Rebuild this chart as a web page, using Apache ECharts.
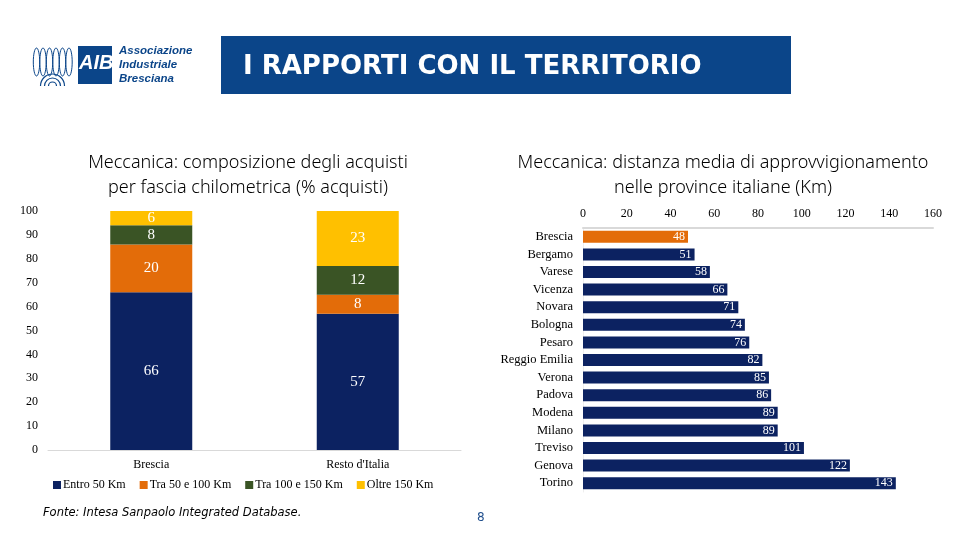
<!DOCTYPE html>
<html><head><meta charset="utf-8">
<script src="https://cdn.jsdelivr.net/npm/echarts@6/dist/echarts.min.js"></script>
<style>html,body{margin:0;padding:0;background:#fff}#c{width:960px;height:540px}</style>
</head><body><div id="c"></div>
<script>
const leftCategories = ['Brescia', "Resto d'Italia"];
const seriesNames = ['Entro 50 Km', 'Tra 50 e 100 Km', 'Tra 100 e 150 Km', 'Oltre 150 Km'];
const entro50 = [66, 57];
const tra50_100 = [20, 8];
const tra100_150 = [8, 12];
const oltre150 = [6, 23];
const leftTicks = [0,10,20,30,40,50,60,70,80,90,100];

const provinces = ['Brescia','Bergamo','Varese','Vicenza','Novara','Bologna','Pesaro','Reggio Emilia','Verona','Padova','Modena','Milano','Treviso','Genova','Torino'];
const distanceKm = [48,51,58,66,71,74,76,82,85,86,89,89,101,122,143];
const rightTicks = [0,20,40,60,80,100,120,140,160];

const NAVY = '#0c2261', ORANGE = '#e36c09', GREEN = '#3a5425', YELLOW = '#ffc000', BLUE = '#0b4589';
const colors = [NAVY, ORANGE, GREEN, YELLOW];
const serif = 'Liberation Serif';
const leftValues = [entro50, tra50_100, tra100_150, oltre150];

const chart = echarts.init(document.getElementById('c'));
const leftSeries = seriesNames.map((n, i) => ({
  name: n, type: 'bar', stack: 'tot', xAxisIndex: 0, yAxisIndex: 0,
  barWidth: 82, data: leftValues[i], itemStyle: {color: colors[i]},
  label: {show: true, position: 'inside', color: '#fff', fontFamily: serif, fontSize: 15}
}));

const shellArcs = [];
for (let k = 0; k < 6; k++) {
  shellArcs.push({type: 'ellipse', shape: {cx: 36.5 + k * 6.5, cy: 62, rx: 3.2, ry: 14},
    style: {fill: 'none', stroke: BLUE, lineWidth: 1}});
}
[12, 8, 4].forEach(r => shellArcs.push({type: 'arc', shape: {cx: 52.5, cy: 86, r: r, startAngle: Math.PI, endAngle: 2 * Math.PI},
  style: {fill: 'none', stroke: BLUE, lineWidth: 1.2}}));

chart.setOption({
  animation: false,
  textStyle: {fontFamily: serif},
  graphic: [
    {type: 'rect', shape: {x: 221, y: 36, width: 570, height: 58}, style: {fill: BLUE}},
    {type: 'text', left: 243, top: 54, style: {text: 'I RAPPORTI CON IL TERRITORIO', fill: '#fff',
      font: 'bold 26px "DejaVu Sans", sans-serif'}},
    {type: 'rect', shape: {x: 78, y: 46, width: 34, height: 38}, style: {fill: BLUE}},
    {type: 'text', left: 79, top: 53, style: {text: 'AIB', fill: '#fff', font: 'italic bold 20px "Liberation Sans", sans-serif'}},
    {type: 'text', left: 119, top: 44, style: {text: 'Associazione\nIndustriale\nBresciana', fill: BLUE, lineHeight: 14,
      font: 'italic bold 11.5px "Liberation Sans", sans-serif'}},
    ...shellArcs,
    {type: 'text', left: 43, top: 507, style: {text: 'Fonte: Intesa Sanpaolo Integrated Database.', fill: '#000',
      font: 'italic 11.5px "DejaVu Sans", sans-serif'}},
    {type: 'text', left: 477, top: 512, style: {text: '8', fill: '#1f4e8c', font: '12px "DejaVu Sans", sans-serif'}}
  ],
  title: [
    {text: 'Meccanica: composizione degli acquisti\nper fascia chilometrica (% acquisti)', left: 243, top: 145, textAlign: 'center',
      textStyle: {fontFamily: '"Noto Sans", sans-serif', fontWeight: 300, fontSize: 18, lineHeight: 25, color: '#000'}},
    {text: 'Meccanica: distanza media di approvvigionamento\nnelle province italiane (Km)', left: 718, top: 145, textAlign: 'center',
      textStyle: {fontFamily: '"Noto Sans", sans-serif', fontWeight: 300, fontSize: 18, lineHeight: 25, color: '#000'}}
  ],
  legend: {
    data: seriesNames, left: 48, top: 474, icon: 'rect', itemWidth: 8, itemHeight: 8, itemGap: 14,
    textStyle: {fontFamily: serif, fontSize: 12, color: '#000', padding: [0, 0, 0, -3]}
  },
  grid: [
    {left: 48, right: 499, top: 211, bottom: 90},
    {left: 583, right: 27, top: 228, bottom: 48}
  ],
  xAxis: [
    {type: 'category', gridIndex: 0, data: leftCategories,
      axisLine: {lineStyle: {color: '#d9d9d9'}}, axisTick: {show: false},
      axisLabel: {fontFamily: serif, fontSize: 12, color: '#000', margin: 9}},
    {type: 'value', gridIndex: 1, position: 'top', min: 0, max: 160, interval: 20,
      axisLine: {show: true, lineStyle: {color: '#d9d9d9', width: 2}}, axisTick: {show: false},
      splitLine: {show: false},
      axisLabel: {fontFamily: serif, fontSize: 12, color: '#000', margin: 8}}
  ],
  yAxis: [
    {type: 'value', gridIndex: 0, min: 0, max: 100, interval: 10,
      axisLine: {show: false}, axisTick: {show: false}, splitLine: {show: false},
      axisLabel: {fontFamily: serif, fontSize: 12, color: '#000', margin: 10}},
    {type: 'category', gridIndex: 1, data: provinces, inverse: true,
      axisLine: {show: true, lineStyle: {color: '#eeeeee'}}, axisTick: {show: false},
      axisLabel: {fontFamily: serif, fontSize: 12.5, color: '#000', margin: 10}}
  ],
  series: [
    ...leftSeries,
    {name: 'Distanza', type: 'bar', xAxisIndex: 1, yAxisIndex: 1, barWidth: 12,
      data: distanceKm.map((v, i) => ({value: v, itemStyle: {color: i === 0 ? ORANGE : NAVY}})),
      label: {show: true, position: 'insideRight', color: '#fff', fontFamily: serif, fontSize: 12, distance: 3}}
  ]
});
</script></body></html>
